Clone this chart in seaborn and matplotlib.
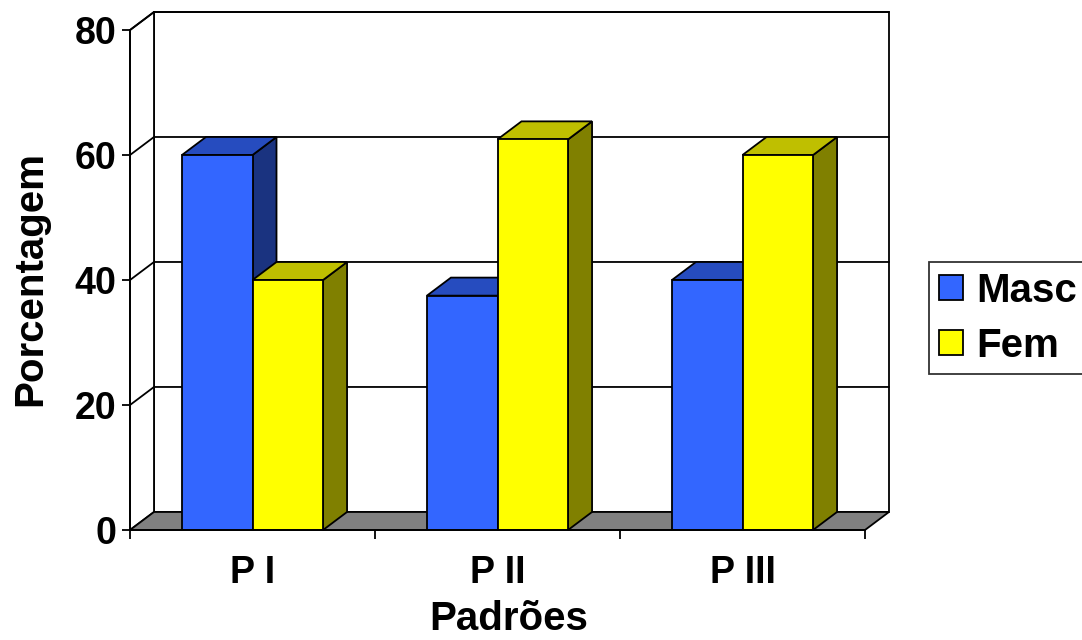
import numpy as np
import pandas as pd
import matplotlib
matplotlib.use("Agg")
import matplotlib.pyplot as plt
from matplotlib.patches import Polygon, Patch
import seaborn as sns

# Chart data
categorias = ["P I", "P II", "P III"]
series = ["Masc", "Fem"]
masc = [60, 37.5, 40]
fem = [40, 62.5, 60]
yticks = [0, 20, 40, 60, 80]

sns.set_theme(style="white")
plt.rcParams["font.family"] = ["Liberation Sans", "DejaVu Sans"]
plt.rcParams["font.weight"] = "bold"
for key in ["text.color", "axes.labelcolor", "xtick.color", "ytick.color", "axes.edgecolor"]:
    plt.rcParams[key] = "black"

W, H = 1082, 640
fig = plt.figure(figsize=(W / 100, H / 100), dpi=100)
# plot box (front-left corner of the floor to the top-right of the back wall), in pixels
left_px, right_px, bottom_px, top_px = 130, 889, 530, 12
ax = fig.add_axes([left_px / W, 1 - bottom_px / H,
                   (right_px - left_px) / W, (bottom_px - top_px) / H])

FS = 27        # tick labels
FS_T = 29      # axis titles and legend
LW = 1.3
DX = 24 / 245          # depth offset along x (category units)
DY = 18 / (499 / 80)   # depth offset along y (value units)

front = {"Masc": "#3366FF", "Fem": "#FFFF00"}
top = {"Masc": "#264CBF", "Fem": "#BFBF00"}
side = {"Masc": "#1A3380", "Fem": "#808000"}

df = pd.DataFrame({
    "Padrão": categorias * 2,
    "Porcentagem": masc + fem,
    "Sexo": ["Masc"] * len(masc) + ["Fem"] * len(fem),
})

sns.barplot(data=df, x="Padrão", y="Porcentagem", hue="Sexo", hue_order=series,
            palette=front, width=0.576, saturation=1, edgecolor="black",
            linewidth=LW, legend=False, ax=ax)

ymax = yticks[-1]
xl, xr = -0.5, len(categorias) - 0.5
ax.set_xlim(xl, xr + DX)
ax.set_ylim(0, ymax + DY)

# back wall
ax.add_patch(Polygon([(xl + DX, DY), (xr + DX, DY), (xr + DX, ymax + DY), (xl + DX, ymax + DY)],
                     closed=True, facecolor="white", edgecolor="black", lw=LW,
                     zorder=0.5, clip_on=False))
# side wall
ax.add_patch(Polygon([(xl, 0), (xl + DX, DY), (xl + DX, ymax + DY), (xl, ymax)],
                     closed=True, facecolor="white", edgecolor="black", lw=LW,
                     zorder=0.5, clip_on=False))
# gridlines running across the side wall and the back wall
for v in yticks[1:]:
    ax.plot([xl, xl + DX, xr + DX], [v, v + DY, v + DY], color="black", lw=LW,
            zorder=0.6, clip_on=False, solid_joinstyle="miter")
# floor
ax.add_patch(Polygon([(xl, 0), (xr, 0), (xr + DX, DY), (xl + DX, DY)], closed=True,
                     facecolor="#808080", edgecolor="black", lw=LW, zorder=0.7,
                     clip_on=False))

# extrude each bar: side face and top face behind the front face
for k, (cont, name) in enumerate(zip(ax.containers, series)):
    for bar in cont:
        x0, w, h = bar.get_x(), bar.get_width(), bar.get_height()
        bar.set_zorder(3 + 2 * k)
        ax.add_patch(Polygon([(x0 + w, 0), (x0 + w + DX, DY), (x0 + w + DX, h + DY), (x0 + w, h)],
                             closed=True, facecolor=side[name], edgecolor="black",
                             lw=LW, zorder=2 + 2 * k, clip_on=False))
        ax.add_patch(Polygon([(x0, h), (x0 + DX, h + DY), (x0 + w + DX, h + DY), (x0 + w, h)],
                             closed=True, facecolor=top[name], edgecolor="black",
                             lw=LW, zorder=2 + 2 * k, clip_on=False))

# axes
for s in ["top", "right"]:
    ax.spines[s].set_visible(False)
ax.spines["left"].set_bounds(0, ymax)
ax.spines["bottom"].set_bounds(xl, xr)
for s in ["left", "bottom"]:
    ax.spines[s].set_linewidth(LW)
    ax.spines[s].set_color("black")
    ax.spines[s].set_zorder(10)

ax.set_yticks(yticks)
ax.set_yticklabels([str(v) for v in yticks])
ax.tick_params(axis="y", left=True, direction="out", length=6, width=LW,
               labelsize=FS, pad=4)
ax.set_xticks(range(len(categorias)))
ax.set_xticklabels(categorias)
ax.set_xticks(np.arange(len(categorias) + 1) - 0.5, minor=True)
ax.tick_params(axis="x", which="major", bottom=True, length=0, labelsize=FS, pad=18)
ax.tick_params(axis="x", which="minor", bottom=True, direction="out", length=6.5, width=LW)
ax.set_xlabel("")
ax.set_ylabel("")

fig.text(30 / W, 1 - 278 / H, "Porcentagem", rotation=90, ha="center", va="center",
         fontsize=FS_T, fontweight="bold")
fig.text(509 / W, 1 - 630 / H, "Padrões", ha="center", va="baseline",
         fontsize=FS_T, fontweight="bold")

handles = [Patch(facecolor=front[s], edgecolor="black", lw=LW) for s in series]
leg = fig.legend(handles, series, loc="upper left", bbox_to_anchor=(929 / W, 1 - 262 / H),
                 frameon=True, fancybox=False, fontsize=FS_T, handlelength=0.6,
                 handleheight=0.6, handletextpad=0.34, borderpad=0.24,
                 labelspacing=0.42, borderaxespad=0)
leg.get_frame().set_edgecolor("black")
leg.get_frame().set_linewidth(LW)

fig.savefig("out.png", dpi=100)
